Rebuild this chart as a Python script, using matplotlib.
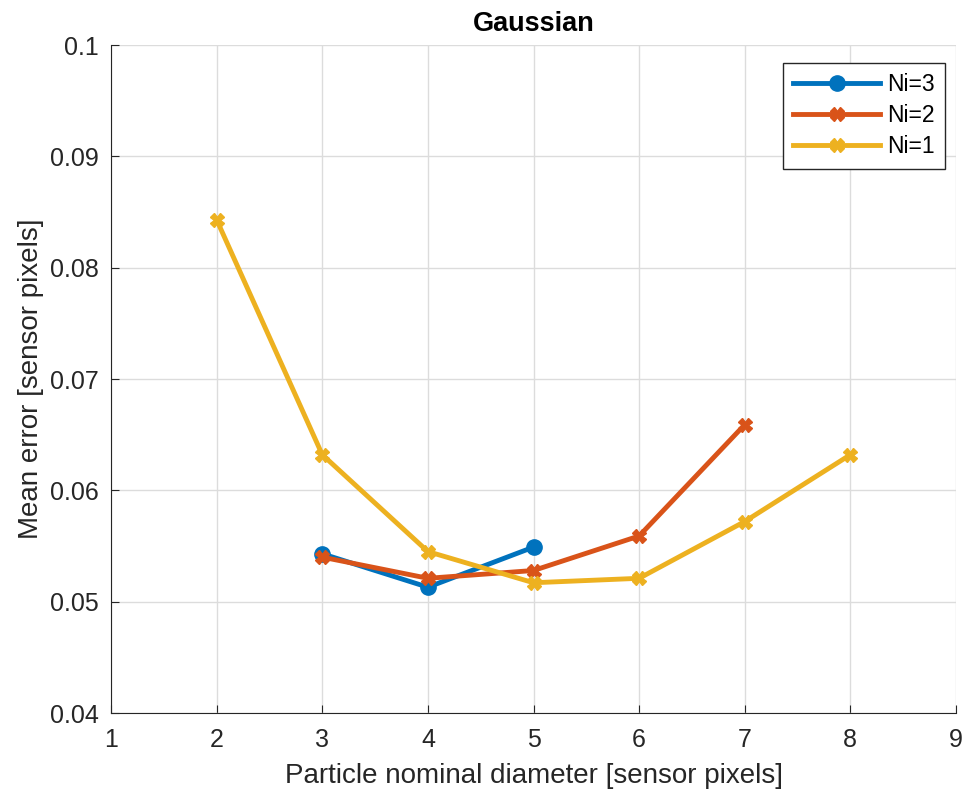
import matplotlib
matplotlib.use("Agg")
import matplotlib.pyplot as plt

plt.rcParams['font.family'] = ['Liberation Sans', 'DejaVu Sans']

# data
x_ni3 = [3, 4, 5]
y_ni3 = [0.0543, 0.0513, 0.0549]
x_ni2 = [3, 4, 5, 6, 7]
y_ni2 = [0.0540, 0.0521, 0.0528, 0.0559, 0.0659]
x_ni1 = [2, 3, 4, 5, 6, 7, 8]
y_ni1 = [0.0843, 0.0632, 0.0545, 0.0517, 0.0521, 0.0572, 0.0632]

fig = plt.figure(figsize=(9.63, 7.91), dpi=100)
ax = fig.add_axes([0.1153, 0.0986, 0.8774, 0.8445])

ax.plot(x_ni3, y_ni3, color="#0072BD", lw=3.5, marker="o", ms=11, label="Ni=3")
ax.plot(x_ni2, y_ni2, color="#D95319", lw=3.5, marker="X", ms=10, label="Ni=2")
ax.plot(x_ni1, y_ni1, color="#EDB120", lw=3.5, marker="X", ms=10, label="Ni=1")

ax.set_xlim(1, 9)
ax.set_ylim(0.04, 0.1)
ax.set_xticks(range(1, 10))
ax.set_yticks([0.04, 0.05, 0.06, 0.07, 0.08, 0.09, 0.1])
ax.set_yticklabels(["0.04", "0.05", "0.06", "0.07", "0.08", "0.09", "0.1"])
ax.grid(True, color="#dcdcdc", lw=1)
ax.set_axisbelow(True)
for s in ["top", "right"]:
    ax.spines[s].set_visible(False)
for s in ["left", "bottom"]:
    ax.spines[s].set_color("#262626")
ax.tick_params(labelsize=18, colors="#262626", direction="in", length=6)
ax.tick_params(axis="x", pad=11)
ax.tick_params(axis="y", pad=9)

ax.set_xlabel("Particle nominal diameter [sensor pixels]", fontsize=20,
              color="#262626", labelpad=8)
ax.set_ylabel("Mean error [sensor pixels]", fontsize=20, color="#262626", labelpad=4)
ax.set_title("Gaussian", fontsize=19.5, fontweight="bold", pad=10)

leg = ax.legend(loc="upper right", bbox_to_anchor=(0.987, 0.973), borderaxespad=0,
                fontsize=16.5, fancybox=False, edgecolor="#262626", framealpha=1,
                handlelength=3.8, borderpad=0.45, labelspacing=0.35, handletextpad=0.3)
leg.get_frame().set_linewidth(1)

fig.savefig("out.png", dpi=100)
